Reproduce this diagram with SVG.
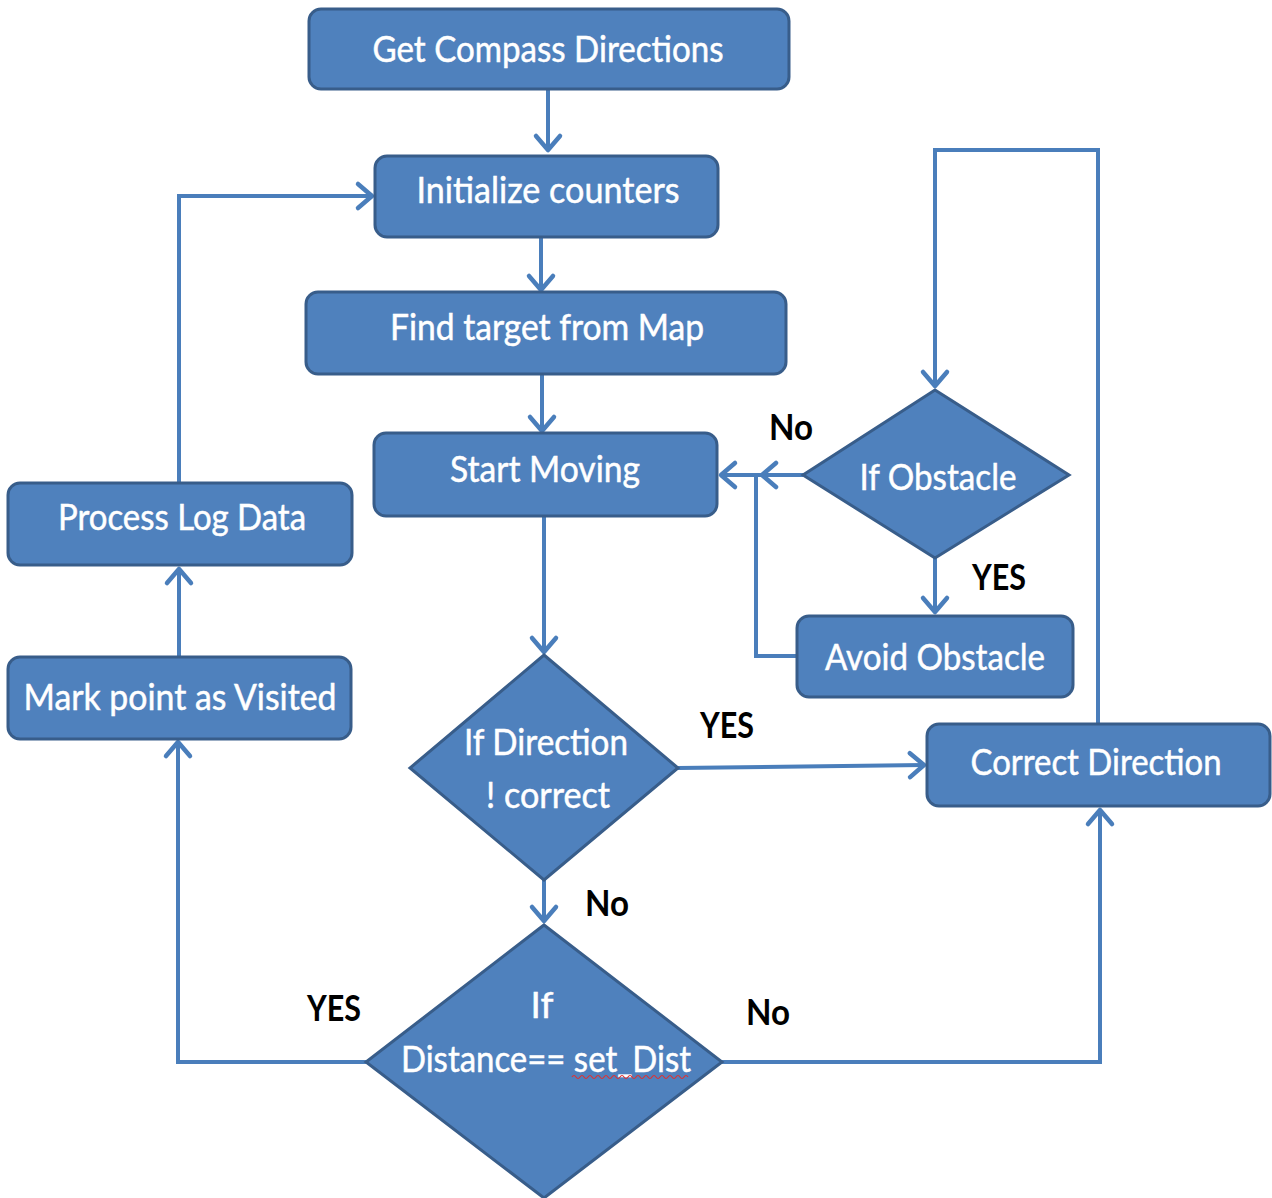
<svg xmlns="http://www.w3.org/2000/svg" width="1272" height="1198" viewBox="0 0 1272 1198">
<style>
.box{fill:#4f81bd;stroke:#385d8a;stroke-width:3}
.t{font-family:Lato,"Open Sans","Liberation Sans",sans-serif;font-size:37px;fill:#ffffff;text-anchor:middle;stroke:#ffffff;stroke-width:0.5}
.lb{font-family:Lato,"Liberation Sans",sans-serif;font-size:36px;font-weight:bold;fill:#000000;text-anchor:middle}
.c{fill:none;stroke:#4a7ebb;stroke-width:4}
</style>
<defs>
<marker id="ah" markerUnits="userSpaceOnUse" markerWidth="34" markerHeight="34" viewBox="-17 -17 20 34" refX="0" refY="0" orient="auto">
<path d="M-14,-12 L0,0 L-14,12" fill="none" stroke="#4a7ebb" stroke-width="4.5" stroke-linecap="round" stroke-linejoin="round"/>
</marker>
</defs>
<g id="connectors">
<path class="c" d="M548,89 V150" marker-end="url(#ah)"/>
<path class="c" d="M541,237 V290" marker-end="url(#ah)"/>
<path class="c" d="M542,374 V431" marker-end="url(#ah)"/>
<path class="c" d="M544,516 V652" marker-end="url(#ah)"/>
<path class="c" d="M678,768 L924,765" marker-end="url(#ah)"/>
<path class="c" d="M1098,724 V150 H935 V386" marker-end="url(#ah)"/>
<path class="c" d="M803,475 H762" marker-end="url(#ah)"/>
<path class="c" d="M762,475 H721" marker-end="url(#ah)"/>
<path class="c" d="M935,558 V612" marker-end="url(#ah)"/>
<path class="c" d="M797,656 H756 V475"/>
<path class="c" d="M544,880 V921" marker-end="url(#ah)"/>
<path class="c" d="M366,1062 H178 V742" marker-end="url(#ah)"/>
<path class="c" d="M179,657 V569" marker-end="url(#ah)"/>
<path class="c" d="M179,483 V196 H372" marker-end="url(#ah)"/>
<path class="c" d="M722,1062 H1100 V810" marker-end="url(#ah)"/>
</g>
<g id="n-get-compass">
<rect class="box" x="309" y="9" width="480" height="80" rx="12"/>
<text class="t" x="548" y="62" textLength="351" lengthAdjust="spacingAndGlyphs">Get Compass Directions</text>
</g>
<g id="n-init">
<rect class="box" x="375" y="156" width="343" height="81" rx="12"/>
<text class="t" x="548" y="203" textLength="263" lengthAdjust="spacingAndGlyphs">Initialize counters</text>
</g>
<g id="n-find">
<rect class="box" x="306" y="292" width="480" height="82" rx="12"/>
<text class="t" x="547" y="340" textLength="314" lengthAdjust="spacingAndGlyphs">Find target from Map</text>
</g>
<g id="n-start">
<rect class="box" x="374" y="433" width="343" height="83" rx="12"/>
<text class="t" x="545" y="482" textLength="190" lengthAdjust="spacingAndGlyphs">Start Moving</text>
</g>
<g id="n-if-direction">
<polygon class="box" points="544,655 678,768 544,880 410,768"/>
<text class="t" x="546" y="755" textLength="164" lengthAdjust="spacingAndGlyphs">If Direction</text>
<text class="t" x="548" y="808" textLength="124" lengthAdjust="spacingAndGlyphs">! correct</text>
</g>
<g id="n-correct">
<rect class="box" x="927" y="724" width="343" height="82" rx="12"/>
<text class="t" x="1096" y="775" textLength="251" lengthAdjust="spacingAndGlyphs">Correct Direction</text>
</g>
<g id="n-if-obstacle">
<polygon class="box" points="935,390 1069,475 935,558 803,475"/>
<text class="t" x="938" y="490" textLength="157" lengthAdjust="spacingAndGlyphs">If Obstacle</text>
</g>
<g id="n-avoid">
<rect class="box" x="797" y="616" width="276" height="81" rx="12"/>
<text class="t" x="935" y="670" textLength="220" lengthAdjust="spacingAndGlyphs">Avoid Obstacle</text>
</g>
<g id="n-if-distance">
<polygon class="box" points="544,925 722,1062 544,1198 366,1062"/>
<text class="t" x="542" y="1018">If</text>
<text class="t" x="546" y="1072" textLength="290" lengthAdjust="spacingAndGlyphs">Distance== set_Dist</text>
<path d="M572,1077 q2,-3 4,0 t4,0 t4,0 t4,0 t4,0 t4,0 t4,0 t4,0 t4,0 t4,0 t4,0 t4,0 t4,0 t4,0 t4,0 t4,0 t4,0 t4,0 t4,0 t4,0 t4,0 t4,0 t4,0 t4,0 t4,0 t4,0 t4,0 t4,0 t4,0" fill="none" stroke="#e03030" stroke-width="1.2"/>
</g>
<g id="n-mark">
<rect class="box" x="8" y="657" width="343" height="82" rx="12"/>
<text class="t" x="180" y="710" textLength="313" lengthAdjust="spacingAndGlyphs">Mark point as Visited</text>
</g>
<g id="n-process">
<rect class="box" x="8" y="483" width="344" height="82" rx="12"/>
<text class="t" x="182" y="530" textLength="248" lengthAdjust="spacingAndGlyphs">Process Log Data</text>
</g>
<g id="labels">
<text class="lb" x="791" y="440" textLength="44" lengthAdjust="spacingAndGlyphs">No</text>
<text class="lb" x="999" y="590" textLength="54" lengthAdjust="spacingAndGlyphs">YES</text>
<text class="lb" x="727" y="738" textLength="54" lengthAdjust="spacingAndGlyphs">YES</text>
<text class="lb" x="607" y="916" textLength="44" lengthAdjust="spacingAndGlyphs">No</text>
<text class="lb" x="334" y="1021" textLength="54" lengthAdjust="spacingAndGlyphs">YES</text>
<text class="lb" x="768" y="1025" textLength="44" lengthAdjust="spacingAndGlyphs">No</text>
</g>
</svg>
